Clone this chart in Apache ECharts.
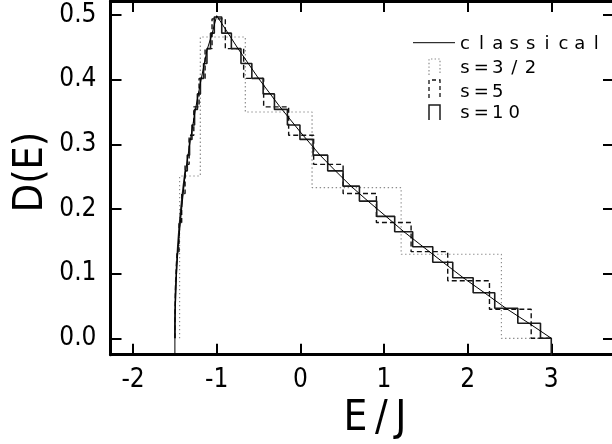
<!DOCTYPE html>
<html><head><meta charset="utf-8">
<script src="https://cdn.jsdelivr.net/npm/echarts@6/dist/echarts.min.js"></script>
<style>html,body{margin:0;padding:0;background:#fff}#c{width:612px;height:444px}</style>
</head><body><div id="c"></div>
<script>
// ---- data ----
const xTicks = [-2, -1, 0, 1, 2, 3];
const yTicks = [0, 0.1, 0.2, 0.3, 0.4, 0.5];

// classical density of states D(E)
const classicalE = [-1.5, -1.5, -1.4985, -1.495, -1.487, -1.476, -1.456, -1.415, -1.376, -1.316, -1.256, -1.196, -1.116, -1.06, -1.0,
  -0.9, -0.75, -0.5, -0.25, 0, 0.237, 0.419, 0.608, 0.81, 1.02, 1.236, 1.463, 1.702, 1.944, 2.195, 2.462, 2.736, 3.0];
const classicalD = [-0.03, 0, 0.03, 0.046, 0.08, 0.113, 0.149, 0.206, 0.255, 0.306, 0.353, 0.394, 0.446, 0.469, 0.499,
  0.479, 0.449, 0.402, 0.359, 0.319, 0.283, 0.259, 0.235, 0.212, 0.189, 0.165, 0.142, 0.118, 0.094, 0.071, 0.046, 0.023, 0];

// s = 10 histogram: rising edges, falling edges, levels
const s10Rise = [-1.4997, -1.4975, -1.493, -1.486, -1.477, -1.466, -1.453, -1.437, -1.419, -1.399, -1.377,
  -1.352, -1.325, -1.296, -1.265, -1.231, -1.195, -1.157, -1.117, -1.074, -1.029];
const s10Fall = [-0.94, -0.825, -0.71, -0.58, -0.445, -0.31, -0.155, -0.005, 0.152, 0.327, 0.511,
  0.706, 0.913, 1.128, 1.343, 1.583, 1.822, 2.066, 2.324, 2.600, 2.871];
const s10Levels = [0, 0.0232, 0.0464, 0.0705, 0.0937, 0.1175, 0.1416, 0.1648, 0.1886, 0.2122, 0.2354,
  0.259, 0.2833, 0.3076, 0.330, 0.354, 0.378, 0.402, 0.425, 0.448, 0.472, 0.497];
const s10End = 3.0;

// s = 5 histogram
const s5Rise = [-1.499, -1.491, -1.475, -1.451, -1.419, -1.3785, -1.330, -1.274, -1.211, -1.139, -1.056];
const s5Fall = [-0.897, -0.678, -0.439, -0.140, 0.159, 0.511, 0.909, 1.324, 1.762, 2.261, 2.760];
const s5Levels = [0, 0.045, 0.089, 0.134, 0.179, 0.224, 0.269, 0.314, 0.358, 0.402, 0.448, 0.494];
const s5End = 3.0;

// s = 3/2 histogram: edges and the level to the right of each edge
const s32Edges = [-1.444, -1.444, -1.196, -0.658, 0.140, 1.205, 2.404, 3.0];
const s32Levels = [0, 0.251, 0.466, 0.350, 0.233, 0.130, 0, 0];

// ---- build step tables ----
function stepTable(rise, fall, levels, end, tail) {
  const n = rise.length;
  const pts = [[rise[0], levels[0]]];
  for (let i = 0; i < n; i++) pts.push([rise[i], levels[i + 1]]);
  for (let i = 0; i < fall.length; i++) pts.push([fall[i], levels[n - 1 - i]]);
  pts.push([end, levels[0]]);
  if (tail !== undefined) pts.push([end, tail]);
  return pts;
}
const s10Data = stepTable(s10Rise, s10Fall, s10Levels, s10End, -0.03);
const s5Data = stepTable(s5Rise, s5Fall, s5Levels, s5End);
const s32Data = s32Edges.map((e, i) => [e, s32Levels[i]]);
const classicalData = classicalE.map((e, i) => [e, classicalD[i]]);

const FONT = '"DejaVu Sans Condensed", "DejaVu Sans", sans-serif';
const LEGFONT = '"DejaVu Sans", sans-serif';

function spacedText(str, x0, y, pitch) {
  return str.split('').map((ch, i) => ({
    type: 'text', x: x0 + i * pitch, y: y,
    style: { text: ch, fill: '#000', font: '18px ' + LEGFONT, align: 'center', verticalAlign: 'middle' }
  }));
}
function icon(top, bottom, stroke, dash, w) {
  return { type: 'polyline', shape: { points: [[429, bottom], [429, top], [440, top], [440, bottom]] },
    style: { stroke: stroke, lineWidth: w, lineDash: dash, fill: null } };
}

const axisLineStyle = { color: '#000', width: 3 };
const tickStyle = { color: '#000', width: 2 };

function xAx(pos, labels) {
  return {
    type: 'value', min: -2.27, max: 3.75, position: pos,
    axisLine: { show: true, onZero: false, lineStyle: axisLineStyle },
    axisTick: { show: true, inside: true, length: 11, lineStyle: tickStyle, customValues: xTicks },
    axisLabel: { show: labels, customValues: xTicks, margin: 13, fontSize: 26, fontFamily: FONT, color: '#000',
      formatter: v => String(v) },
    splitLine: { show: false }
  };
}
function yAx(pos, labels) {
  return {
    type: 'value', min: -0.0254, max: 0.5217, position: pos,
    axisLine: { show: true, onZero: false, lineStyle: axisLineStyle },
    axisTick: { show: true, inside: true, length: 11, lineStyle: tickStyle, customValues: yTicks },
    axisLabel: { show: labels, customValues: yTicks, margin: 14, fontSize: 26, fontFamily: FONT, color: '#000',
      formatter: v => v.toFixed(1) },
    splitLine: { show: false }
  };
}

const chart = echarts.init(document.getElementById('c'), null, { renderer: 'canvas' });
chart.setOption({
  animation: false,
  backgroundColor: '#fff',
  grid: { left: 110.5, top: 1, width: 503.5, height: 353.7, outerBoundsMode: 'none', containLabel: false },
  xAxis: [xAx('bottom', true), xAx('top', false)],
  yAxis: [yAx('left', true), yAx('right', false)],
  series: [
    { name: 's=3/2', type: 'line', data: s32Data, step: 'end', symbol: 'none', clip: true, silent: true,
      lineStyle: { color: '#8c8c8c', width: 1.2, type: [1.4, 2.6] }, z: 2 },
    { name: 's=5', type: 'line', data: s5Data, step: 'end', symbol: 'none', clip: true, silent: true,
      lineStyle: { color: '#111', width: 1.4, type: [5, 3] }, z: 3 },
    { name: 's=10', type: 'line', data: s10Data, step: 'end', symbol: 'none', clip: true, silent: true,
      lineStyle: { color: '#1c1c1c', width: 1.6 }, z: 4 },
    { name: 'classical', type: 'line', data: classicalData, symbol: 'none', clip: true, silent: true,
      lineStyle: { color: '#000', width: 1 }, z: 5 }
  ],
  graphic: [
    { type: 'text', x: 375, y: 419, style: { text: 'E\u2009/\u2009J', fill: '#000', font: '42px ' + FONT, align: 'center', verticalAlign: 'middle' } },
    { type: 'text', x: 31, y: 172, rotation: Math.PI / 2,
      style: { text: 'D(E)', fill: '#000', font: '41px ' + FONT, align: 'center', verticalAlign: 'middle' } },
    { type: 'line', shape: { x1: 413, y1: 42.7, x2: 455, y2: 42.7 }, style: { stroke: '#000', lineWidth: 1 } },
    icon(59, 75, '#8c8c8c', [1.4, 2.2], 1.2),
    icon(80, 98, '#111', [4, 3], 1.3),
    icon(105, 120, '#1c1c1c', null, 1.5),
    ...spacedText('classical', 465, 44, 16.4),
    ...spacedText('s=3/2', 465, 68.5, 16.4),
    ...spacedText('s=5', 465, 92.5, 16.4),
    ...spacedText('s=10', 465, 113.5, 16.4)
  ]
});
</script>
</body></html>
